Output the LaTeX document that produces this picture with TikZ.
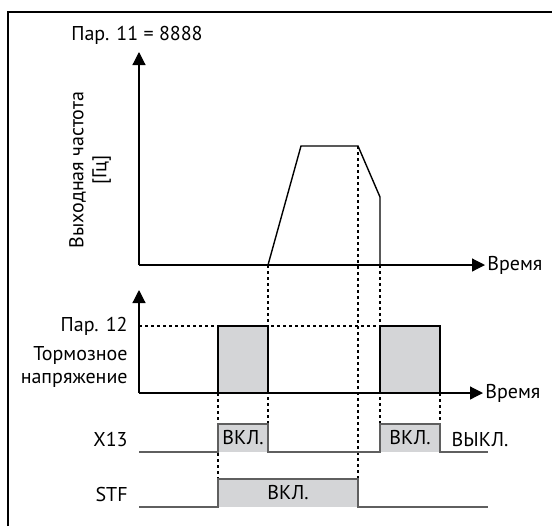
\documentclass[tikz,border=0pt]{standalone}
\usepackage{fontspec}
\setmainfont{PT Sans}
\usetikzlibrary{arrows.meta}
\definecolor{boxgray}{HTML}{D4D5D7}
\definecolor{sigline}{HTML}{5F5F5F}
\tikzset{
  axis/.style={line width=0.6pt,-{Triangle[length=6.5pt,width=6.5pt]}},
  dotline/.style={line width=0.6pt,dash pattern=on 1.6pt off 1.4pt},
  sig/.style={line width=0.6pt,draw=sigline},
  lbl/.style={inner sep=0pt}
}
\begin{document}
\begin{tikzpicture}[x=0.5pt,y=-0.5pt,line join=miter,font=\fontsize{10}{11.5}\selectfont]
  \useasboundingbox (0,0) rectangle (552,526);
  \draw[line width=1pt] (8,526) -- (8,12) -- (552,12);
  % axes
  \coordinate (O1) at (139,265);
  \coordinate (O2) at (139,393);
  \coordinate (Y1) at (139,52);
  \coordinate (X1) at (485,265);
  \coordinate (Y2) at (139,290);
  \coordinate (X2) at (483,393);
  % time marks
  \coordinate (T1) at (218,0);
  \coordinate (T2) at (268,0);
  \coordinate (T3) at (358,0);
  \coordinate (T4) at (380,0);
  \coordinate (T5) at (440,0);
  % dotted guides
  \draw[dotline] (T1|-O2) -- (218,479);
  \draw[dotline] (T2|-O1) -- (268,424);
  \draw[dotline] (358,146) -- (358,479);
  \draw[dotline] (T4|-O1) -- (380,424);
  \draw[dotline] (T5|-O2) -- (440,424);
  \draw[dotline] (139,326) -- (380,326);
  % brake voltage
  \draw[line width=0.6pt,fill=boxgray] (218,393) -- (218,326) -- (268,326) -- (268,393);
  \draw[line width=0.6pt,fill=boxgray] (380,393) -- (380,326) -- (440,326) -- (440,393);
  % output frequency
  \draw[line width=0.7pt] (268,265) -- (301,146) -- (358,146) -- (380,197) -- (380,265);
  \draw[axis] (O1) -- (Y1);
  \draw[axis] (O1) -- (X1);
  \draw[axis] (O2) -- (Y2);
  \draw[axis] (O2) -- (X2);
  % X13 and STF
  \fill[boxgray] (218,424) rectangle (268,452);
  \fill[boxgray] (380,424) rectangle (440,452);
  \fill[boxgray] (218,479) rectangle (358,507);
  \draw[sig] (139,452) -- (218,452) -- (218,424) -- (268,424) -- (268,452)
    -- (380,452) -- (380,424) -- (440,424) -- (440,452) -- (488,452);
  \draw[sig] (139,507) -- (218,507) -- (218,479) -- (358,479) -- (358,507) -- (488,507);
  % labels
  \node[lbl] (p11) at (137,35) {Пар. 11 = 8888};
  \node[lbl,rotate=90,align=center] (fout) at (90,170) {Выходная частота\\{}[Гц]};
  \node[lbl,anchor=west] (time1) at (487,265) {Время};
  \node[lbl,anchor=west] (time2) at (485,393) {Время};
  \node[lbl,anchor=east] (p12) at (128,326) {Пар. 12};
  \node[lbl,anchor=east,align=right] (brake) at (128,367) {Тормозное\\напряжение};
  \node[lbl,anchor=east] (x13) at (128,439) {X13};
  \node[lbl,anchor=east] (stf) at (128,494) {STF};
  \node[lbl] (on1) at (243,438) {ВКЛ.};
  \node[lbl] (on2) at (410,438) {ВКЛ.};
  \node[lbl] (off) at (480,440) {ВЫКЛ.};
  \node[lbl] (on3) at (288,493) {ВКЛ.};
\end{tikzpicture}
\end{document}
